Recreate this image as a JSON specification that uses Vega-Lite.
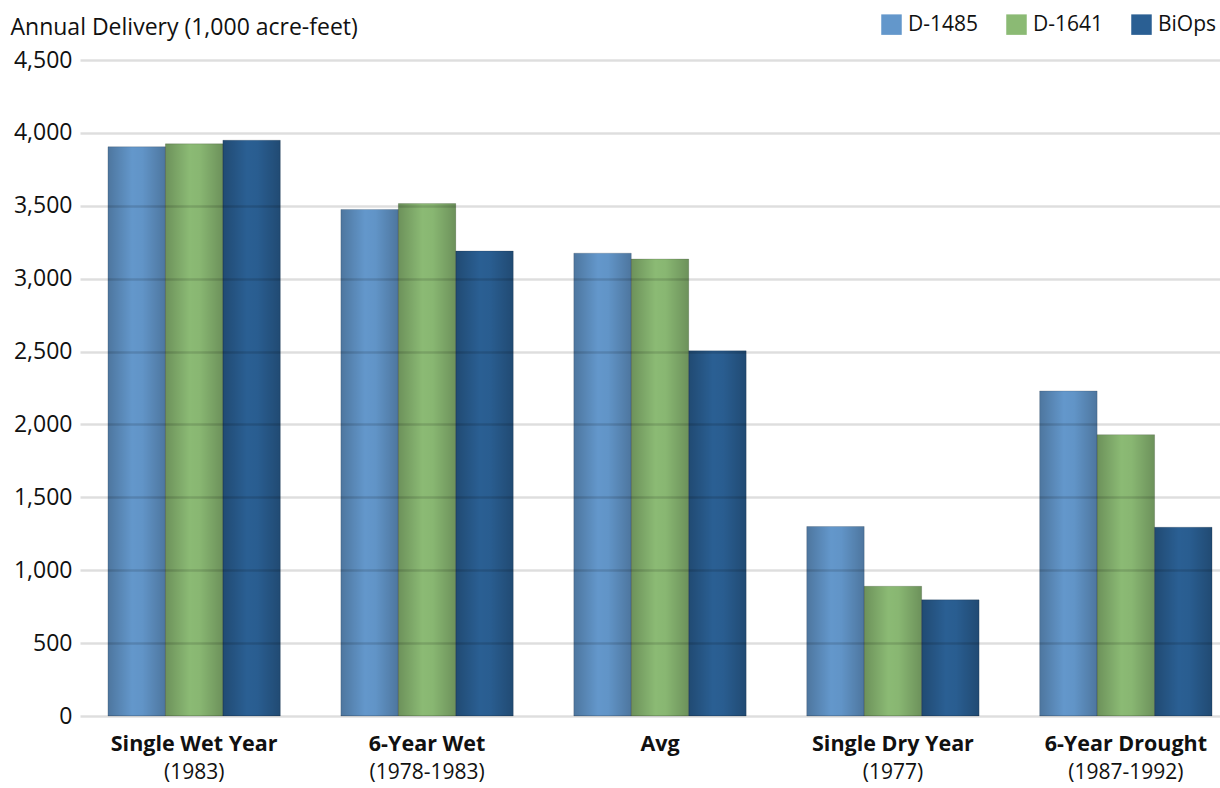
{
  "$schema": "https://vega.github.io/schema/vega-lite/v6.json",
  "autosize": {"type": "none"},
  "padding": {"left": 80, "top": 60, "right": 0, "bottom": 72},
  "width": 1160,
  "height": 656,
  "background": "white",
  "config": {
    "font": "Open Sans",
    "view": {"stroke": null},
    "axis": {"labelFont": "Open Sans", "titleFont": "Open Sans", "labelColor": "#111", "titleColor": "#111"},
    "legend": {"labelFont": "Open Sans"}
  },
  "data": {
    "values": [
      {"scenario": "Single Wet Year", "series": "D-1485", "value": 3905},
      {"scenario": "Single Wet Year", "series": "D-1641", "value": 3925},
      {"scenario": "Single Wet Year", "series": "BiOps", "value": 3950},
      {"scenario": "6-Year Wet", "series": "D-1485", "value": 3475},
      {"scenario": "6-Year Wet", "series": "D-1641", "value": 3515},
      {"scenario": "6-Year Wet", "series": "BiOps", "value": 3190},
      {"scenario": "Avg", "series": "D-1485", "value": 3175},
      {"scenario": "Avg", "series": "D-1641", "value": 3135},
      {"scenario": "Avg", "series": "BiOps", "value": 2505},
      {"scenario": "Single Dry Year", "series": "D-1485", "value": 1300},
      {"scenario": "Single Dry Year", "series": "D-1641", "value": 890},
      {"scenario": "Single Dry Year", "series": "BiOps", "value": 797},
      {"scenario": "6-Year Drought", "series": "D-1485", "value": 2230},
      {"scenario": "6-Year Drought", "series": "D-1641", "value": 1930},
      {"scenario": "6-Year Drought", "series": "BiOps", "value": 1295}
    ]
  },
  "resolve": {"scale": {"x": "independent"}, "axis": {"x": "independent"}},
  "layer": [
    {
      "mark": {"type": "bar"},
      "encoding": {
        "x": {
          "field": "scenario", "type": "nominal",
          "sort": ["Single Wet Year", "6-Year Wet", "Avg", "Single Dry Year", "6-Year Drought"],
          "scale": {"domain": ["Single Wet Year", "6-Year Wet", "Avg", "Single Dry Year", "6-Year Drought"], "paddingInner": 0.26, "paddingOuter": 0.12},
          "axis": {
            "title": null, "orient": "bottom", "domain": false, "ticks": false, "labelAngle": 0,
            "labelFontSize": 21.5, "labelFontWeight": "bold", "labelPadding": 17, "labelBaseline": "top", "labelColor": "#111"
          }
        },
        "xOffset": {"field": "series", "type": "nominal", "sort": ["D-1485", "D-1641", "BiOps"], "scale": {"domain": ["D-1485", "D-1641", "BiOps"], "paddingInner": 0, "paddingOuter": 0}},
        "y": {
          "field": "value", "type": "quantitative",
          "scale": {"domain": [0, 4500], "nice": false},
          "axis": {
            "values": [0, 500, 1000, 1500, 2000, 2500, 3000, 3500, 4000, 4500],
            "format": ",d", "domain": false, "ticks": false, "labelFontSize": 23, "labelPadding": 8,
            "grid": true, "gridColor": "#000", "gridOpacity": 0.13, "gridWidth": 2.5, "zindex": 1,
            "title": "Annual Delivery (1,000 acre-feet)", "titleAngle": 0, "titleAlign": "left", "titleBaseline": "alphabetic",
            "titleX": -70, "titleY": -26, "titleFontSize": 23, "titleFontWeight": "normal"
          }
        },
        "color": {
          "field": "series", "type": "nominal", "sort": ["D-1485", "D-1641", "BiOps"],
          "scale": {"domain": ["D-1485", "D-1641", "BiOps"], "range": ["#6397cb", "#8bba74", "#2a5f93"]},
          "legend": {
            "title": null, "orient": "none", "direction": "horizontal", "legendX": 801, "legendY": -46,
            "symbolType": "square", "symbolSize": 420, "symbolStrokeWidth": 0, "symbolOpacity": 1,
            "labelFontSize": 21, "labelColor": "#111", "labelOffset": 6, "columnPadding": 27
          }
        }
      }
    },
    {
      "mark": {
        "type": "bar",
        "stroke": "#000", "strokeOpacity": 0.15, "strokeWidth": 1,
        "color": {
          "x1": 0, "y1": 0, "x2": 1, "y2": 0,
          "gradient": "linear",
          "stops": [
            {"offset": 0, "color": "rgba(0,0,0,0.22)"},
            {"offset": 0.42, "color": "rgba(0,0,0,0)"},
            {"offset": 0.6, "color": "rgba(0,0,0,0.02)"},
            {"offset": 1, "color": "rgba(0,0,0,0.22)"}
          ]
        }
      },
      "encoding": {
        "x": {
          "field": "scenario", "type": "nominal",
          "sort": ["Single Wet Year", "6-Year Wet", "Avg", "Single Dry Year", "6-Year Drought"],
          "scale": {"domain": ["Single Wet Year", "6-Year Wet", "Avg", "Single Dry Year", "6-Year Drought"], "paddingInner": 0.26, "paddingOuter": 0.12},
          "axis": {
            "title": null, "orient": "bottom", "domain": false, "ticks": false, "labelAngle": 0, "grid": false,
            "labelFontSize": 21, "labelFontWeight": "normal", "labelPadding": 45, "labelBaseline": "top", "labelColor": "#111",
            "labelExpr": "datum.value == 'Single Wet Year' ? '(1983)' : datum.value == '6-Year Wet' ? '(1978-1983)' : datum.value == 'Single Dry Year' ? '(1977)' : datum.value == '6-Year Drought' ? '(1987-1992)' : ''"
          }
        },
        "xOffset": {"field": "series", "type": "nominal", "sort": ["D-1485", "D-1641", "BiOps"], "scale": {"domain": ["D-1485", "D-1641", "BiOps"], "paddingInner": 0, "paddingOuter": 0}},
        "y": {"field": "value", "type": "quantitative"}
      }
    }
  ]
}
